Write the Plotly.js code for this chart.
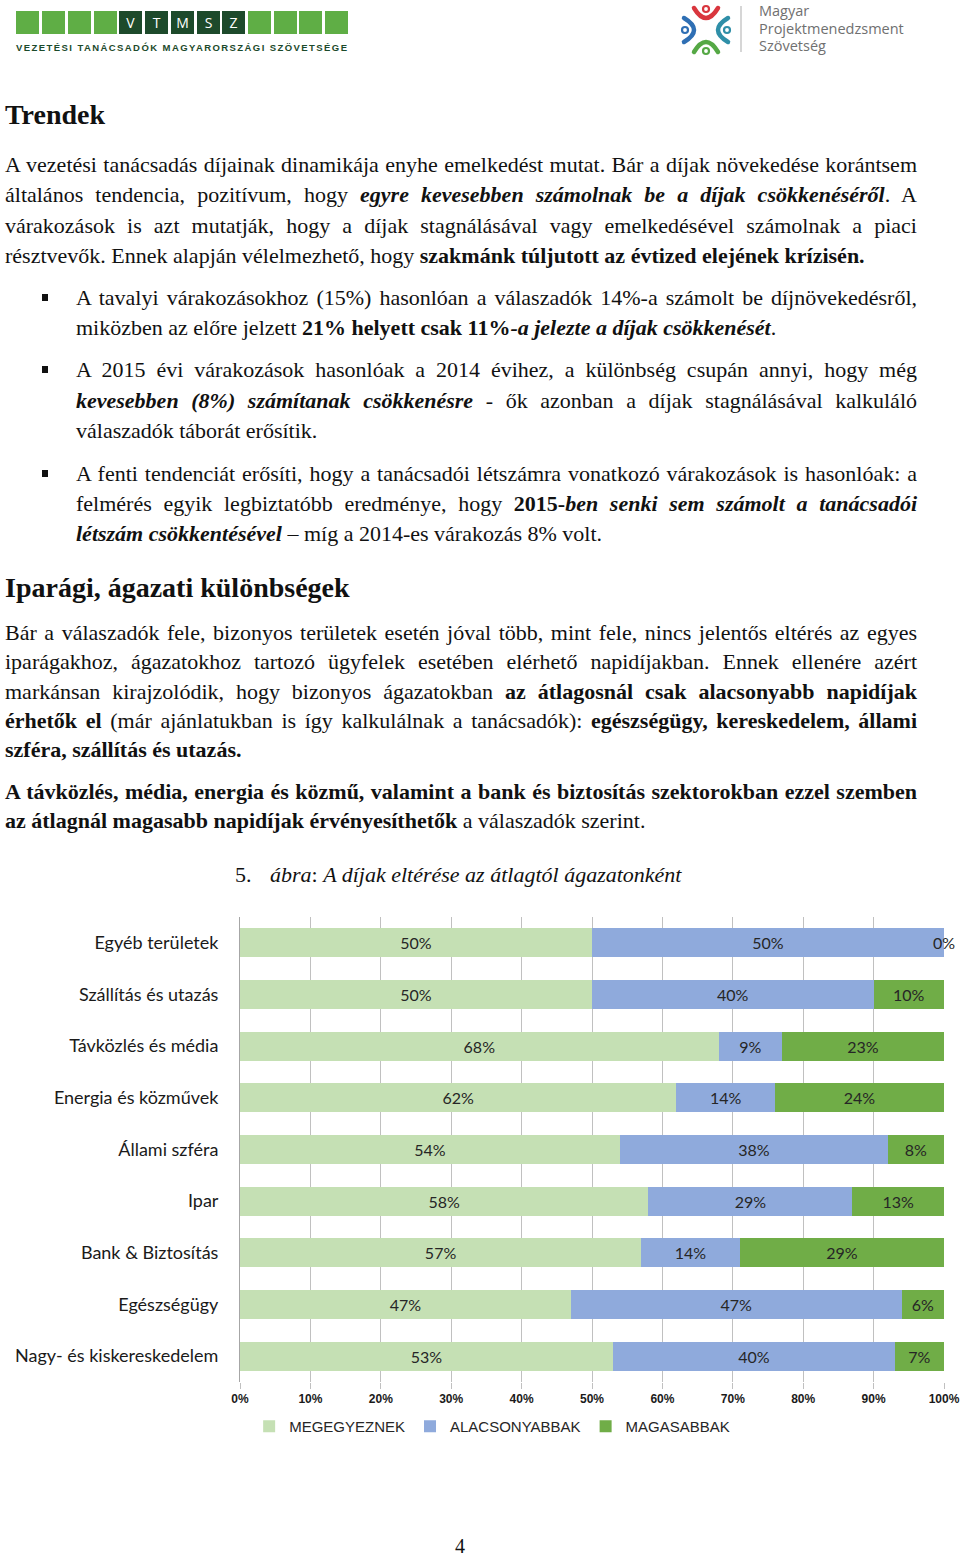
<!DOCTYPE html>
<html><head><meta charset="utf-8">
<script src="https://cdn.plot.ly/plotly-3.0.1.min.js"></script>
<style>
html,body{margin:0;padding:0;background:#fff;}
#page{position:relative;width:960px;height:1556px;overflow:hidden;font-family:"Liberation Serif","Times New Roman",serif;color:#111;}
.blk{position:absolute;font-size:22px;}
.j{text-align:justify;text-align-last:justify;}
.h{position:absolute;left:5px;font-weight:bold;font-size:28px;line-height:34px;}
.bul{position:absolute;left:42px;width:6px;height:7px;background:#111;}
#chart{position:absolute;left:0;top:900px;width:960px;height:560px;}
</style></head>
<body><div id="page">

<svg style="position:absolute;left:0;top:0" width="360" height="60">
  <g fill="#5fae45">
    <rect x="16" y="11" width="23" height="23"/><rect x="42" y="11" width="23" height="23"/>
    <rect x="68" y="11" width="23" height="23"/><rect x="94" y="11" width="23" height="23"/>
    <rect x="248" y="11" width="23" height="23"/><rect x="274" y="11" width="23" height="23"/>
    <rect x="299" y="11" width="23" height="23"/><rect x="325" y="11" width="23" height="23"/>
  </g>
  <g fill="#1d4a2b">
    <rect x="119" y="11" width="23" height="23"/><rect x="145" y="11" width="23" height="23"/>
    <rect x="171" y="11" width="23" height="23"/><rect x="197" y="11" width="23" height="23"/>
    <rect x="222" y="11" width="23" height="23"/>
  </g>
  <g fill="#ffffff" font-family="Open Sans, Liberation Sans, sans-serif" font-size="14" text-anchor="middle">
    <text x="130.5" y="27.5">V</text><text x="156.5" y="27.5">T</text><text x="182.5" y="27.5">M</text>
    <text x="208.5" y="27.5">S</text><text x="233.5" y="27.5">Z</text>
  </g>
  <text x="16" y="51" textLength="331" lengthAdjust="spacing" font-family="Liberation Sans, sans-serif" font-weight="bold" font-size="9.5" fill="#1c4a2b">VEZETÉSI TANÁCSADÓK MAGYARORSZÁGI SZÖVETSÉGE</text>
</svg>

<svg style="position:absolute;left:660px;top:0" width="300" height="60">
  <g transform="translate(46,30)" fill="none" stroke-linecap="round" stroke-width="4.5">
    <g stroke="#d9363e"><path d="M-12 -22 Q0 -2 12 -22"/><circle cx="0" cy="-21" r="3" stroke-width="2.2"/></g>
    <g stroke="#2f8fa8" transform="rotate(90)"><path d="M-12 -22 Q0 -2 12 -22"/><circle cx="0" cy="-21" r="3" stroke-width="2.2"/></g>
    <g stroke="#55a845" transform="rotate(180)"><path d="M-12 -22 Q0 -2 12 -22"/><circle cx="0" cy="-21" r="3" stroke-width="2.2"/></g>
    <g stroke="#2f6fb4" transform="rotate(270)"><path d="M-12 -22 Q0 -2 12 -22"/><circle cx="0" cy="-21" r="3" stroke-width="2.2"/></g>
  </g>
  <line x1="81" y1="6" x2="81" y2="52" stroke="#c8c8c8" stroke-width="1.5"/>
  <g font-family="Open Sans, sans-serif" font-size="14.5" fill="#707070">
    <text x="99" y="16">Magyar</text>
    <text x="99" y="33.5">Projektmenedzsment</text>
    <text x="99" y="51">Szövetség</text>
  </g>
</svg>

<div class="h" style="top:98px;">Trendek</div>

<div class="blk" style="left:5px;top:150px;width:912px;line-height:30.3px;">
  <div class="j">A vezetési tanácsadás díjainak dinamikája enyhe emelkedést mutat. Bár a díjak növekedése korántsem</div>
  <div class="j">általános tendencia, pozitívum, hogy <b><i>egyre kevesebben számolnak be a díjak csökkenéséről</i></b>. A</div>
  <div class="j">várakozások is azt mutatják, hogy a díjak stagnálásával vagy emelkedésével számolnak a piaci</div>
  <div>résztvevők. Ennek alapján vélelmezhető, hogy <b>szakmánk túljutott az évtized elejének krízisén.</b></div>
</div>

<div class="bul" style="top:294px;"></div>
<div class="blk" style="left:76px;top:283px;width:841px;line-height:30px;">
  <div class="j">A tavalyi várakozásokhoz (15%) hasonlóan a válaszadók 14%-a számolt be díjnövekedésről,</div>
  <div>miközben az előre jelzett <b>21% helyett csak 11%<i>-a jelezte a díjak csökkenését</i></b>.</div>
</div>

<div class="bul" style="top:366px;"></div>
<div class="blk" style="left:76px;top:355px;width:841px;line-height:30.5px;">
  <div class="j">A 2015 évi várakozások hasonlóak a 2014 évihez, a különbség csupán annyi, hogy még</div>
  <div class="j"><b><i>kevesebben (8%) számítanak csökkenésre</i></b> - ők azonban a díjak stagnálásával kalkuláló</div>
  <div>válaszadók táborát erősítik.</div>
</div>

<div class="bul" style="top:470px;"></div>
<div class="blk" style="left:76px;top:459px;width:841px;line-height:30px;">
  <div class="j">A fenti tendenciát erősíti, hogy a tanácsadói létszámra vonatkozó várakozások is hasonlóak: a</div>
  <div class="j">felmérés egyik legbiztatóbb eredménye, hogy <b>2015-<i>ben senki sem számolt a tanácsadói</i></b></div>
  <div><b><i>létszám csökkentésével</i></b> – míg a 2014-es várakozás 8% volt.</div>
</div>

<div class="h" style="top:571px;">Iparági, ágazati különbségek</div>

<div class="blk" style="left:5px;top:618px;width:912px;line-height:29.3px;">
  <div class="j">Bár a válaszadók fele, bizonyos területek esetén jóval több, mint fele, nincs jelentős eltérés az egyes</div>
  <div class="j">iparágakhoz, ágazatokhoz tartozó ügyfelek esetében elérhető napidíjakban. Ennek ellenére azért</div>
  <div class="j">markánsan kirajzolódik, hogy bizonyos ágazatokban <b>az átlagosnál csak alacsonyabb napidíjak</b></div>
  <div class="j"><b>érhetők el</b> (már ajánlatukban is így kalkulálnak a tanácsadók): <b>egészségügy, kereskedelem, állami</b></div>
  <div><b>szféra, szállítás és utazás.</b></div>
</div>

<div class="blk" style="left:5px;top:777px;width:912px;line-height:29.3px;">
  <div class="j"><b>A távközlés, média, energia és közmű, valamint a bank és biztosítás szektorokban ezzel szemben</b></div>
  <div><b>az átlagnál magasabb napidíjak érvényesíthetők</b> a válaszadók szerint.</div>
</div>

<div class="blk" style="left:235px;top:860px;line-height:30px;">5.</div>
<div class="blk" style="left:270px;top:860px;line-height:30px;"><i>ábra</i>: <i>A díjak eltérése az átlagtól ágazatonként</i></div>

<div id="chart"></div>

<div class="blk" style="left:455px;top:1538px;font-size:20px;line-height:16px;">4</div>
</div>

<script>
const categories = ["Egyéb területek","Szállítás és utazás","Távközlés és média","Energia és közművek","Állami szféra","Ipar","Bank & Biztosítás","Egészségügy","Nagy- és kiskereskedelem"];
const megegyeznek   = [50, 50, 68, 62, 54, 58, 57, 47, 53];
const alacsonyabbak = [50, 40,  9, 14, 38, 29, 14, 47, 40];
const magasabbak    = [ 0, 10, 23, 24,  8, 13, 29,  6,  7];
const seriesNames = ["MEGEGYEZNEK","ALACSONYABBAK","MAGASABBAK"];
const xTicks = [0,10,20,30,40,50,60,70,80,90,100];

const series = [megegyeznek, alacsonyabbak, magasabbak];
const colors = ['#C5E0B4','#8FAADC','#70AD47'];
const labelFont = {family:'Lato, sans-serif', size:16, color:'#262626'};

const traces = series.map((vals,i)=>({
  type:'bar', orientation:'h', name:seriesNames[i],
  y:categories, x:vals,
  marker:{color:colors[i], line:{width:0}},
  text: vals.map(v => v > 0 ? v + '%' : ''),
  textposition:'inside', insidetextanchor:'middle', constraintext:'none', textangle:0,
  textfont:labelFont, insidetextfont:labelFont,
  hoverinfo:'skip'
}));

const annotations = [];
categories.forEach((c,j)=>{
  let cum = 0;
  series.forEach(vals=>{
    cum += vals[j];
    if (vals[j] === 0) {
      annotations.push({x:cum, y:c, xref:'x', yref:'y', text:vals[j]+'%', showarrow:false, xanchor:'center', font:labelFont});
    }
  });
});

const layout = {
  width:960, height:560,
  margin:{l:240, r:16, t:17, b:78},
  barmode:'stack', bargap:0.44,
  paper_bgcolor:'rgba(0,0,0,0)', plot_bgcolor:'rgba(0,0,0,0)',
  xaxis:{range:[0,100], tickvals:xTicks, ticktext:xTicks.map(v=>v+'%'),
         showgrid:true, gridcolor:'#c0c0c0', gridwidth:1, zeroline:false, showline:false,
         ticks:'outside', ticklen:6, tickcolor:'#c0c0c0',
         tickfont:{family:'Liberation Sans, Arial, sans-serif', size:12, color:'#1a1a1a', weight:'bold'}, fixedrange:true},
  yaxis:{type:'category', autorange:'reversed', showline:true, linecolor:'#a6a6a6', linewidth:1,
         ticks:'', ticklabelstandoff:17, showgrid:false, zeroline:false,
         tickfont:{family:'Lato, sans-serif', size:18, color:'#1a1a1a'}, fixedrange:true},
  legend:{orientation:'h', x:0.013, xanchor:'left', y:-0.06, yanchor:'top', traceorder:'normal',
          font:{family:'Liberation Sans, Arial, sans-serif', size:15, color:'#262626'}, itemwidth:30},
  showlegend:true,
  annotations:annotations
};

Plotly.newPlot('chart', traces, layout, {staticPlot:true, displayModeBar:false});
</script>
</body></html>
